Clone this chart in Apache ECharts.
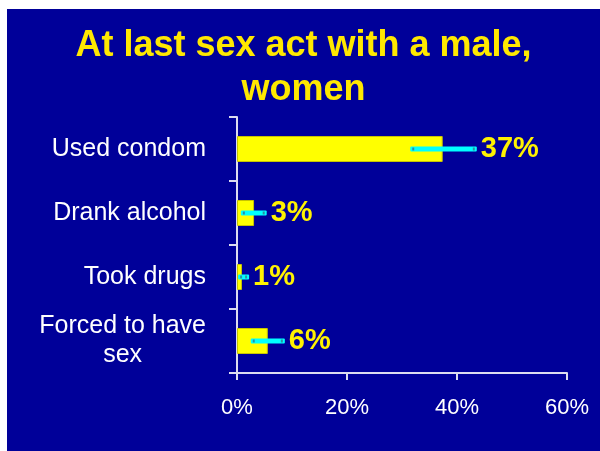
<!DOCTYPE html>
<html>
<head>
<meta charset="utf-8">
<script src="https://cdn.jsdelivr.net/npm/echarts@6/dist/echarts.min.js"></script>
<style>
  html, body { margin: 0; padding: 0; background: #ffffff; }
  #wrap { position: relative; width: 600px; height: 451px; background: #ffffff; overflow: hidden; }
  #chart { position: absolute; left: 7px; top: 9px; width: 593px; height: 442px; }
</style>
</head>
<body>
<div id="wrap"><div id="chart"></div></div>
<script>
// ---- data ----
const titleText = 'At last sex act with a male,\nwomen';
const categories = ['Used condom', 'Drank alcohol', 'Took drugs', 'Forced to have\nsex'];
const values = [37.4, 3.1, 0.9, 5.6];        // bar values (%)
const ciLow  = [31.5, 0.7, 0.2, 2.5];        // error bar low ends (%)
const ciHigh = [43.6, 5.4, 2.2, 8.7];        // error bar high ends (%)
const valueLabels = ['37%', '3%', '1%', '6%'];
const xTicks = [0, 20, 40, 60];

const FONT = '"Liberation Sans", Arial, Helvetica, sans-serif';
const AXIS_COLOR = '#DCDCF0';

const chart = echarts.init(document.getElementById('chart'), null, { renderer: 'canvas' });

const errData = categories.map((c, i) => [i, ciLow[i], ciHigh[i], valueLabels[i]]);

chart.setOption({
  backgroundColor: '#000099',
  animation: false,
  title: {
    text: titleText,
    left: 'center',
    top: 15,
    padding: 0,
    textStyle: {
      color: '#FFE800',
      fontFamily: FONT,
      fontWeight: 'bold',
      fontSize: 36,
      lineHeight: 44,
      align: 'center'
    }
  },
  grid: { left: 230, right: 33, top: 108, bottom: 78, containLabel: false },
  xAxis: {
    type: 'value',
    min: xTicks[0],
    max: xTicks[xTicks.length - 1],
    interval: xTicks[1] - xTicks[0],
    axisLine: { show: true, lineStyle: { color: AXIS_COLOR, width: 2 } },
    axisTick: { show: true, length: 7, lineStyle: { color: AXIS_COLOR, width: 2 } },
    splitLine: { show: false },
    axisLabel: {
      color: '#FFFFFF',
      fontFamily: FONT,
      fontSize: 22,
      margin: 24,
      formatter: '{value}%'
    }
  },
  yAxis: {
    type: 'category',
    inverse: true,
    data: categories,
    axisLine: { show: true, lineStyle: { color: AXIS_COLOR, width: 2 } },
    axisTick: { show: true, length: 8, alignWithLabel: false, lineStyle: { color: AXIS_COLOR, width: 2 } },
    splitLine: { show: false },
    axisLabel: {
      margin: 31,
      formatter: function (v) {
        return v.split('\n').map(function (s) { return '{a|' + s + '}'; }).join('\n');
      },
      rich: {
        a: {
          color: '#FFFFFF',
          fontFamily: FONT,
          fontSize: 25,
          lineHeight: 29,
          align: 'center'
        }
      }
    }
  },
  series: [
    {
      type: 'bar',
      data: values,
      barWidth: 26,
      itemStyle: { color: '#FFFF00', borderColor: '#C8C400', borderWidth: 1 },
      z: 2
    },
    {
      type: 'custom',
      data: errData,
      encode: { x: [1, 2], y: 0 },
      z: 5,
      renderItem: function (params, api) {
        const idx = api.value(0);
        const p0 = api.coord([api.value(1), idx]);
        const p1 = api.coord([api.value(2), idx]);
        const y = p0[1];
        const h = 5;
        return {
          type: 'group',
          children: [
            {
              type: 'rect',
              shape: { x: p0[0], y: y - h / 2, width: p1[0] - p0[0], height: h, r: 1 },
              style: { fill: '#00FFFF' }
            },
            {
              type: 'rect',
              shape: { x: p0[0] + 2, y: y - 1.5, width: 2, height: 3 },
              style: { fill: '#2A8FA8' }
            },
            {
              type: 'rect',
              shape: { x: p1[0] - 4, y: y - 1.5, width: 2, height: 3 },
              style: { fill: '#2A8FA8' }
            },
            {
              type: 'text',
              x: p1[0] + 4,
              y: y,
              style: {
                text: api.value(3),
                fill: '#FFF200',
                font: 'bold 29px ' + FONT,
                textAlign: 'left',
                textVerticalAlign: 'middle'
              }
            }
          ]
        };
      }
    }
  ]
});
</script>
</body>
</html>
